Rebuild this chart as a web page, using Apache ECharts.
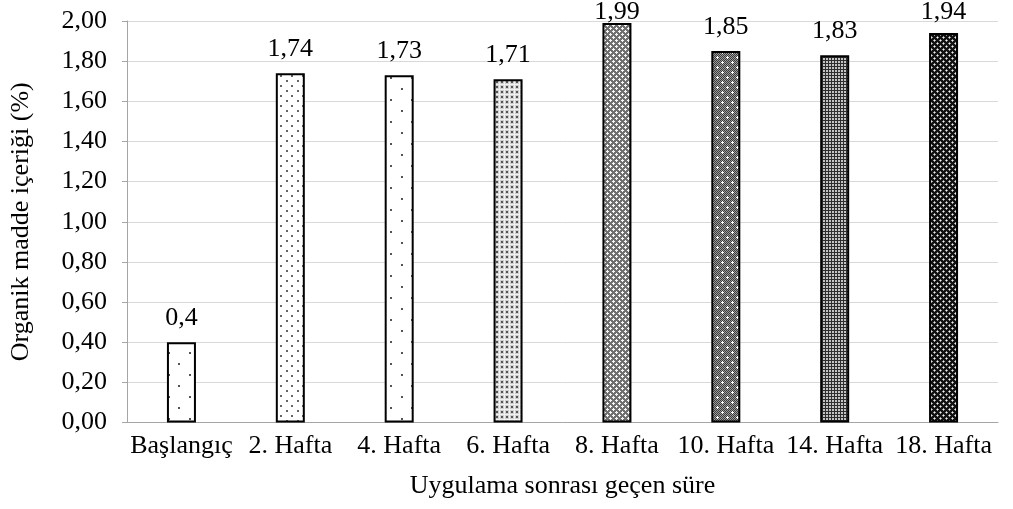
<!DOCTYPE html>
<html>
<head>
<meta charset="utf-8">
<script src="https://cdn.jsdelivr.net/npm/echarts@6/dist/echarts.min.js"></script>
<style>
  html, body { margin: 0; padding: 0; background: #fff; }
  #chart { width: 1013px; height: 509px; }
</style>
</head>
<body>
<div id="chart"></div>
<script>
// Organik madde içeriği, uygulama sonrası haftalara göre
const categories = ['Başlangıç', '2. Hafta', '4. Hafta', '6. Hafta', '8. Hafta', '10. Hafta', '14. Hafta', '18. Hafta'];
const values = [0.4, 1.74, 1.73, 1.71, 1.99, 1.85, 1.83, 1.94];
const yMin = 0, yMax = 2, yStep = 0.2;

const FONT = '"Liberation Serif", "Times New Roman", serif';
const FS = 26;
const LABEL_GAP = 11;
const LABEL_MIN_CENTER = 12; // keep value labels inside the canvas

// Build a small repeating tile for a bar fill pattern
function tile(w, h, bg, draw) {
  const c = document.createElement('canvas');
  c.width = w; c.height = h;
  const g = c.getContext('2d');
  g.fillStyle = bg;
  g.fillRect(0, 0, w, h);
  draw(g);
  return c;
}
function px(g, col, x, y, w, h) { g.fillStyle = col; g.fillRect(x, y, w || 1, h || 1); }
function plus(g, col, cx, cy) {
  px(g, col, cx, cy); px(g, col, cx - 1, cy); px(g, col, cx + 1, cy);
  px(g, col, cx, cy - 1); px(g, col, cx, cy + 1);
}

const patterns = [
  // sparse dots
  tile(21, 22, '#ffffff', g => { px(g, '#555', 0, 0, 2, 2); px(g, '#555', 10, 11, 2, 2); }),
  // medium dots
  tile(11, 10, '#ffffff', g => { px(g, '#666', 0, 0, 2, 2); px(g, '#666', 5, 5, 2, 2); }),
  // sparse dots
  tile(21, 22, '#ffffff', g => { px(g, '#555', 2, 0, 2, 2); px(g, '#555', 12, 11, 2, 2); }),
  // dense dots
  tile(5, 5, '#f0f0f0', g => { px(g, '#cfcfcf', 0, 0, 4, 4); px(g, '#555', 1, 1, 2, 2); }),
  // diamonds with light centres
  tile(6, 6, '#707070', g => { plus(g, '#f6f6f6', 1, 1); plus(g, '#f6f6f6', 4, 4); }),
  // fine checker with white sparks
  tile(10, 10, '#9a9a9a', g => {
    for (let y = 0; y < 10; y++) for (let x = 0; x < 10; x++) if ((x + y) % 2 === 0) px(g, '#3c3c3c', x, y);
    plus(g, '#ffffff', 2, 2); plus(g, '#ffffff', 7, 7);
  }),
  // fine grid
  tile(3, 3, '#c4c4c4', g => { px(g, '#2e2e2e', 0, 0, 3, 1); px(g, '#2e2e2e', 0, 0, 1, 3); }),
  // dark with light crosses
  tile(6, 6, '#111111', g => { plus(g, '#9a9a9a', 1, 1); plus(g, '#9a9a9a', 4, 4); px(g, '#f0f0f0', 1, 1); px(g, '#f0f0f0', 4, 4); })
];

const fmt = v => String(v).replace('.', ',');

function barData(labelOffsets) {
  return values.map((v, i) => ({
    value: v,
    itemStyle: { color: { image: patterns[i], repeat: 'repeat' }, borderColor: '#000', borderWidth: 2 },
    label: { offset: [0, labelOffsets ? labelOffsets[i] : 0] }
  }));
}

const chart = echarts.init(document.getElementById('chart'), null, { renderer: 'canvas' });
chart.setOption({
  animation: false,
  backgroundColor: '#ffffff',
  textStyle: { fontFamily: FONT },
  grid: { left: 127, right: 15, top: 21, bottom: 86.5, containLabel: false },
  xAxis: {
    type: 'category',
    data: categories,
    name: 'Uygulama sonrası geçen süre',
    nameLocation: 'middle',
    nameGap: 51,
    nameTextStyle: { fontFamily: FONT, fontSize: FS, color: '#000' },
    axisLine: { lineStyle: { color: '#a6a6a6', width: 1 } },
    axisTick: { show: false },
    axisLabel: { fontFamily: FONT, fontSize: FS, color: '#000', margin: 11, interval: 0 }
  },
  yAxis: {
    type: 'value',
    min: yMin, max: yMax, interval: yStep,
    name: 'Organik madde içeriği (%)',
    nameLocation: 'middle',
    nameGap: 93,
    nameTextStyle: { fontFamily: FONT, fontSize: FS, color: '#000' },
    axisLine: { show: true, lineStyle: { color: '#a6a6a6', width: 1 } },
    axisTick: { show: true, length: 5, lineStyle: { color: '#a6a6a6' } },
    axisLabel: { fontFamily: FONT, fontSize: FS, color: '#000', margin: 20, formatter: v => v.toFixed(2).replace('.', ',') },
    splitLine: { lineStyle: { color: '#d9d9d9', width: 1 } }
  },
  series: [{
    type: 'bar',
    barWidth: 29,
    data: barData(null),
    label: {
      show: true, position: 'top', distance: LABEL_GAP,
      fontFamily: FONT, fontSize: FS, color: '#000',
      formatter: p => fmt(p.value)
    }
  }]
});

// Pull value labels down where they would run off the top edge
const offsets = values.map(v => {
  const top = chart.convertToPixel({ yAxisIndex: 0 }, v);
  const center = top - LABEL_GAP - FS / 2;
  return Math.max(0, LABEL_MIN_CENTER - center);
});
chart.setOption({ series: [{ data: barData(offsets) }] });
</script>
</body>
</html>
